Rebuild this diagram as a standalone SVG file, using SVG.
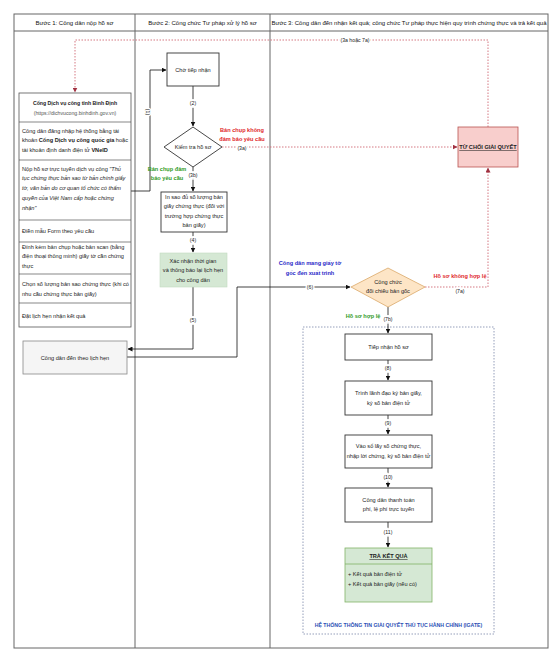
<svg xmlns="http://www.w3.org/2000/svg" width="559" height="669" viewBox="0 0 559 669">
<style>
text{font-family:"Liberation Sans",Arial,sans-serif;fill:#222}
.hd{font-size:6px;text-anchor:middle;fill:#111}
.b{font-size:5.6px}
.c{font-size:5.6px;text-anchor:middle}
.lbl{font-size:5.2px;text-anchor:middle;stroke:#fff;stroke-width:3px;paint-order:stroke}
.red{font-size:5.6px;font-weight:bold;fill:#e0262a;text-anchor:middle}
.grn{font-size:5.6px;font-weight:bold;fill:#2f9a25;text-anchor:middle}
.blu{font-size:5.6px;font-weight:bold;fill:#2a2ac8;text-anchor:middle}
.box{fill:#fff;stroke:#333;stroke-width:0.9}
.ln{fill:none;stroke:#111;stroke-width:0.8}
.rd{fill:none;stroke:#d06a74;stroke-width:0.9;stroke-dasharray:1.5 1.5}
.cell{fill:none;stroke:#555;stroke-width:0.7}
</style>
<defs>
<marker id="arr" viewBox="0 0 10 10" refX="9" refY="5" markerWidth="5" markerHeight="5" orient="auto" markerUnits="userSpaceOnUse"><path d="M0,0 L10,5 L0,10 Z" fill="#111"/></marker>
<marker id="arrR" viewBox="0 0 10 10" refX="9" refY="5" markerWidth="5" markerHeight="5" orient="auto" markerUnits="userSpaceOnUse"><path d="M0,0 L10,5 L0,10 Z" fill="#a03040"/></marker>
</defs>
<rect width="559" height="669" fill="#fff"/>
<g id="lanes">
<rect x="14" y="14" width="534" height="634" fill="none" stroke="#666" stroke-width="1"/>
<line x1="14" y1="31" x2="548" y2="31" stroke="#666" stroke-width="1"/>
<line x1="135" y1="14" x2="135" y2="648" stroke="#666" stroke-width="1"/>
<line x1="270" y1="14" x2="270" y2="648" stroke="#666" stroke-width="1"/>
<text class="hd" x="74.5" y="25">Bước 1: Công dân nộp hồ sơ</text>
<text class="hd" x="202.5" y="25">Bước 2: Công chức Tư pháp xử lý hồ sơ</text>
<text class="hd" x="409" y="25">Bước 3: Công dân đến nhận kết quả; công chức Tư pháp thực hiện quy trình chứng thực và trả kết quả</text>
</g>
<g id="igate">
<rect x="303" y="327" width="191" height="307" fill="none" stroke="#7a86a8" stroke-width="0.8" stroke-dasharray="1.5 1.5"/>
<text x="398.5" y="627" style="font-size:5.2px;font-weight:bold;fill:#2b4fb5;text-anchor:middle">HỆ THỐNG THÔNG TIN GIẢI QUYẾT THỦ TỤC HÀNH CHÍNH (IGATE)</text>
</g>
<g id="connectors">
<path class="ln" d="M131,191 H150 V70 H166" marker-end="url(#arr)"/>
<path class="ln" d="M193,86 V126" marker-end="url(#arr)"/>
<path class="rd" d="M222,147 H457" marker-end="url(#arrR)"/>
<path class="ln" d="M193,167 V191" marker-end="url(#arr)"/>
<path class="ln" d="M193,232 V252" marker-end="url(#arr)"/>
<path class="ln" d="M193,287 V349 H128" marker-end="url(#arr)"/>
<path class="ln" d="M127,357 H237 V287 H350" marker-end="url(#arr)"/>
<path class="rd" d="M425,287 H488 V168" marker-end="url(#arrR)"/>
<path class="rd" d="M488,127 V40 H75 V92" marker-end="url(#arrR)"/>
<path class="ln" d="M388,307 V333" marker-end="url(#arr)"/>
<path class="ln" d="M388,360 V380" marker-end="url(#arr)"/>
<path class="ln" d="M388,415 V434" marker-end="url(#arr)"/>
<path class="ln" d="M388,468 V487" marker-end="url(#arr)"/>
<path class="ln" d="M388,522 V547" marker-end="url(#arr)"/>
<text class="lbl" x="355" y="42">(3a hoặc 7a)</text>
<text class="lbl" transform="translate(148,112) rotate(90)" x="0" y="2">(1)</text>
<text class="lbl" x="193" y="105">(2)</text>
<text class="red" x="242" y="132">Bản chụp không</text>
<text class="red" x="242" y="141">đảm bảo yêu cầu</text>
<text class="lbl" x="242" y="150">(3a)</text>
<text class="grn" x="167" y="171">Bản chụp đảm</text>
<text class="grn" x="167" y="180">bảo yêu cầu</text>
<text class="lbl" x="193" y="177">(3b)</text>
<text class="lbl" x="193" y="242">(4)</text>
<text class="lbl" x="193" y="322">(5)</text>
<text class="blu" x="310" y="265">Công dân mang giấy tờ</text>
<text class="blu" x="310" y="275">gốc đến xuất trình</text>
<text class="lbl" x="310" y="289">(6)</text>
<text class="red" x="460" y="278">Hồ sơ không hợp lệ</text>
<text class="lbl" x="460" y="293">(7a)</text>
<text class="grn" x="363" y="318">Hồ sơ hợp lệ</text>
<text class="lbl" x="388" y="321">(7b)</text>
<text class="lbl" x="388" y="370">(8)</text>
<text class="lbl" x="388" y="425">(9)</text>
<text class="lbl" x="388" y="479">(10)</text>
<text class="lbl" x="388" y="534">(11)</text>
</g>
<g id="portal">
<rect x="19" y="93" width="112" height="234" fill="#fff" stroke="#555" stroke-width="0.8"/>
<line class="cell" x1="19" y1="122" x2="131" y2="122"/>
<line class="cell" x1="19" y1="160" x2="131" y2="160"/>
<line class="cell" x1="19" y1="220" x2="131" y2="220"/>
<line class="cell" x1="19" y1="242" x2="131" y2="242"/>
<line class="cell" x1="19" y1="274" x2="131" y2="274"/>
<line class="cell" x1="19" y1="303" x2="131" y2="303"/>
<text x="75" y="105" style="font-size:5.2px;font-weight:bold;text-anchor:middle">Cổng Dịch vụ công tỉnh Bình Định</text>
<text x="75" y="115" style="font-size:5.2px;text-anchor:middle;fill:#555">(https://dichvucong.binhdinh.gov.vn)</text>
<text class="b" x="22" y="133">Công dân đăng nhập hệ thống bằng tài</text>
<text class="b" x="22" y="142">khoản <tspan font-weight="bold">Cổng Dịch vụ công quốc gia</tspan> hoặc</text>
<text class="b" x="22" y="152">tài khoản định danh điện tử <tspan font-weight="bold">VNeID</tspan></text>
<text class="b" x="22" y="171">Nộp hồ sơ trực tuyến dịch vụ công <tspan font-style="italic">"Thủ</tspan></text>
<text class="b" x="22" y="180" font-style="italic">tục chứng thực bản sao từ bản chính giấy</text>
<text class="b" x="22" y="190" font-style="italic">tờ, văn bản do cơ quan tổ chức có thẩm</text>
<text class="b" x="22" y="200" font-style="italic">quyền của Việt Nam cấp hoặc chứng</text>
<text class="b" x="22" y="210" font-style="italic">nhận"</text>
<text class="b" x="22" y="233">Điền mẫu Form theo yêu cầu</text>
<text class="b" x="22" y="249">Đính kèm bản chụp hoặc bản scan (bằng</text>
<text class="b" x="22" y="258">điện thoại thông minh) giấy tờ cần chứng</text>
<text class="b" x="22" y="268">thực</text>
<text class="b" x="22" y="286">Chọn số lượng bản sao chứng thực (khi có</text>
<text class="b" x="22" y="296">nhu cầu chứng thực bản giấy)</text>
<text class="b" x="22" y="318">Đặt lịch hẹn nhận kết quả</text>
</g>
<g id="lichhen">
<rect x="23" y="341" width="104" height="33" fill="#f5f5f5" stroke="#888" stroke-width="0.8"/>
<text class="c" x="75" y="360">Công dân đến theo lịch hẹn</text>
</g>
<g id="chotiepnhan">
<rect class="box" x="167" y="53" width="52" height="33"/>
<text class="c" x="193" y="72">Chờ tiếp nhận</text>
</g>
<g id="kiemtra">
<polygon points="193,127 222,147 193,167 164,147" class="box"/>
<text class="c" x="193" y="149">Kiểm tra hồ sơ</text>
</g>
<g id="insao">
<rect class="box" x="161" y="192" width="66" height="40"/>
<text class="c" x="194" y="199">In sao đủ số lượng bản</text>
<text class="c" x="194" y="208">giấy chứng thực (đối với</text>
<text class="c" x="194" y="218">trường hợp chứng thực</text>
<text class="c" x="194" y="227">bản giấy)</text>
</g>
<g id="xacnhan">
<rect x="160" y="253" width="67" height="34" fill="#d5e8d4" stroke="#c2d9c0" stroke-width="0.6"/>
<text class="c" x="193" y="263">Xác nhận thời gian</text>
<text class="c" x="193" y="272">và thông báo lại lịch hẹn</text>
<text class="c" x="193" y="282">cho công dân</text>
</g>
<g id="tuchoi">
<rect x="458" y="127" width="60" height="40" fill="#f8cecc" stroke="#b85450" stroke-width="0.8"/>
<text x="488" y="149" style="font-size:5.6px;font-weight:bold;text-anchor:middle;text-decoration:underline">TỪ CHỐI GIẢI QUYẾT</text>
</g>
<g id="doichieu">
<polygon points="388,268 425,287 388,307 351,287" fill="#fde5c6" stroke="#dba868" stroke-width="0.8"/>
<text class="c" x="388" y="284">Công chức</text>
<text class="c" x="388" y="293">đối chiếu bản gốc</text>
</g>
<g id="tiepnhan">
<rect class="box" x="345" y="334" width="87" height="26"/>
<text class="c" x="388.5" y="349">Tiếp nhận hồ sơ</text>
</g>
<g id="trinh">
<rect class="box" x="345" y="381" width="87" height="34"/>
<text class="c" x="388.5" y="395">Trình lãnh đạo ký bản giấy,</text>
<text class="c" x="388.5" y="405">ký số bản điện tử</text>
</g>
<g id="vaoso">
<rect class="box" x="345" y="435" width="87" height="33"/>
<text class="c" x="388.5" y="448">Vào sổ lấy số chứng thực,</text>
<text class="c" x="388.5" y="458">nhập lời chứng, ký số bản điện tử</text>
</g>
<g id="thanhtoan">
<rect class="box" x="345" y="488" width="87" height="34"/>
<text class="c" x="388.5" y="502">Công dân thanh toán</text>
<text class="c" x="388.5" y="511">phí, lệ phí trực tuyến</text>
</g>
<g id="traketqua">
<rect x="345" y="548" width="87" height="54" fill="#d5e8d4" stroke="#82b366" stroke-width="0.8"/>
<line x1="345" y1="564" x2="432" y2="564" stroke="#82b366" stroke-width="0.8"/>
<text x="388.5" y="558" style="font-size:5.6px;font-weight:bold;text-anchor:middle;text-decoration:underline">TRẢ KẾT QUẢ</text>
<text class="b" x="348" y="576">+ Kết quả bản điện tử</text>
<text class="b" x="348" y="586">+ Kết quả bản giấy (nếu có)</text>
</g>
</svg>
